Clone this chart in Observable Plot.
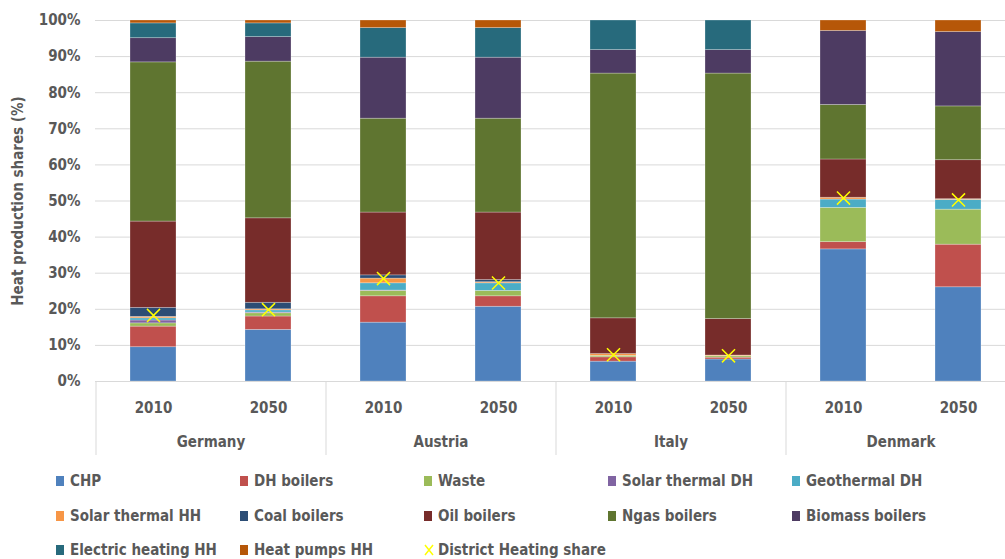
<!DOCTYPE html>
<html><head><meta charset="utf-8">
<script src="https://cdn.jsdelivr.net/npm/d3@7"></script>
<script src="https://cdn.jsdelivr.net/npm/@observablehq/plot@0.6"></script>
<style>
body{margin:0;background:#fff;font-family:"DejaVu Sans Condensed","DejaVu Sans",sans-serif;}
#chart{width:1005px;overflow:hidden;}
.legend{display:grid;grid-template-columns:repeat(5,184px);margin-left:56px;color:#595959;font-weight:bold;font-size:15px;margin-top:-1px;}
.item{height:34.5px;display:flex;align-items:center;white-space:nowrap}
.sw{width:8px;height:10px;margin-right:6px;flex:none}
.xs{width:10px;height:14px;margin-right:4px;flex:none}
</style></head><body>
<div id="chart"></div>
<script>
const countries = ["Germany", "Austria", "Italy", "Denmark"];
const years = ["2010", "2050"];
const techs = ["CHP", "DH boilers", "Waste", "Solar thermal DH", "Geothermal DH", "Solar thermal HH",
  "Coal boilers", "Oil boilers", "Ngas boilers", "Biomass boilers", "Electric heating HH", "Heat pumps HH"];
const colors = ["#4F81BD", "#C0504D", "#9BBB59", "#8064A2", "#4BACC6", "#F79646",
  "#2C4D75", "#772C2A", "#5F7530", "#4D3B62", "#276A7C", "#B65708"];
// values per bar: Germany 2010, Germany 2050, Austria 2010, Austria 2050, Italy 2010, Italy 2050, Denmark 2010, Denmark 2050
const chp            = [9.5, 14.3, 16.3, 20.7, 5.5, 6.1, 36.6, 26.1];
const dhBoilers      = [5.7, 3.7, 7.3, 2.9, 1.2, 0.5, 2.0, 11.8];
const waste          = [0.9, 0.9, 1.5, 1.5, 0.4, 0.4, 9.5, 9.7];
const solarDH        = [0.8, 0.2, 0.1, 0.0, 0.0, 0.0, 0.0, 0.0];
const geothermalDH   = [0.6, 0.6, 2.0, 2.1, 0.0, 0.0, 2.3, 2.7];
const solarHH        = [0.4, 0.3, 1.3, 0.3, 0.5, 0.2, 0.5, 0.2];
const coalBoilers    = [2.5, 1.8, 0.9, 0.6, 0.0, 0.0, 0.0, 0.0];
const oilBoilers     = [23.9, 23.4, 17.4, 18.7, 9.9, 10.1, 10.6, 10.8];
const ngasBoilers    = [44.1, 43.4, 26.0, 26.0, 67.8, 68.0, 15.1, 14.9];
const biomassBoilers = [6.7, 6.8, 16.9, 16.9, 6.5, 6.5, 20.5, 20.6];
const electricHH     = [4.1, 3.8, 8.2, 8.2, 8.2, 8.2, 0.0, 0.0];
const heatPumpsHH    = [0.8, 0.8, 2.1, 2.1, 0.0, 0.0, 2.9, 3.2];
const dhShare        = [18.3, 19.9, 28.5, 27.3, 7.4, 7.1, 50.8, 50.3];
const yTicks = [0, 10, 20, 30, 40, 50, 60, 70, 80, 90, 100];

const seriesValues = [chp, dhBoilers, waste, solarDH, geothermalDH, solarHH, coalBoilers,
  oilBoilers, ngasBoilers, biomassBoilers, electricHH, heatPumpsHH];
const keys = countries.flatMap(c => years.map(y => c + "|" + y));
const firstKeys = countries.map(c => c + "|" + years[0]);
const rows = [];
techs.forEach((t, k) => seriesValues[k].forEach((v, i) => { if (v > 0) rows.push({key: keys[i], tech: t, value: v}); }));
const dh = dhShare.map((v, i) => ({key: keys[i], share: v}));

const font = '"DejaVu Sans Condensed","DejaVu Sans",sans-serif';
const plot = Plot.plot({
  width: 1005, height: 465,
  marginTop: 20, marginBottom: 84, marginLeft: 95, marginRight: 0,
  style: {fontFamily: font, fontSize: "15px", fontWeight: "bold", color: "#595959", background: "white"},
  x: {domain: keys, range: [95, 1015], paddingInner: 0.6, paddingOuter: 0.3, axis: null, label: null},
  y: {domain: [0, 100], axis: null, label: "Heat production shares (%)", labelArrow: "none"},
  color: {domain: techs, range: colors},
  marks: [
    Plot.gridY(yTicks, {stroke: "#D9D9D9", strokeOpacity: 1, strokeWidth: 1}),
    Plot.axisY(yTicks, {tickFormat: d => d + "%", tickSize: 0, tickPadding: 15, label: "Heat production shares (%)", labelArrow: "none", labelAnchor: "center", labelOffset: 83, fill: "#595959"}),
    Plot.barY(rows, {x: "key", y: "value", fill: "tech", stroke: "white", strokeOpacity: 0.35, strokeWidth: 0.75}),
    Plot.ruleY([0], {stroke: "#D9D9D9", strokeWidth: 1}),
    Plot.axisX({tickSize: 0, tickPadding: 21, tickFormat: d => d.split("|")[1], label: null, fill: "#595959"}),
    Plot.axisX(firstKeys, {tickSize: 0, tickPadding: 55, tickFormat: d => d.split("|")[0], dx: 57.5, label: null, fill: "#595959"}),
    Plot.axisX(firstKeys, {tickSize: 74, tickFormat: () => "", dx: -57.5, label: null, stroke: "#D9D9D9"}),
    Plot.dot(dh, {x: "key", y: "share", symbol: "times", stroke: "#FFFF00", r: 6, strokeWidth: 1.5})
  ]
});
document.getElementById("chart").appendChild(plot);

const legend = document.createElement("div");
legend.className = "legend";
techs.forEach((t, i) => {
  const it = document.createElement("div");
  it.className = "item";
  it.innerHTML = `<span class="sw" style="background:${colors[i]}"></span>${t}`;
  legend.appendChild(it);
});
const it = document.createElement("div");
it.className = "item";
it.innerHTML = `<svg class="xs" viewBox="0 0 10 14"><path d="M1,2L9,12M9,2L1,12" stroke="#FFFF00" stroke-width="1.5"/></svg>District Heating share`;
legend.appendChild(it);
document.body.appendChild(legend);
</script>
</body></html>
